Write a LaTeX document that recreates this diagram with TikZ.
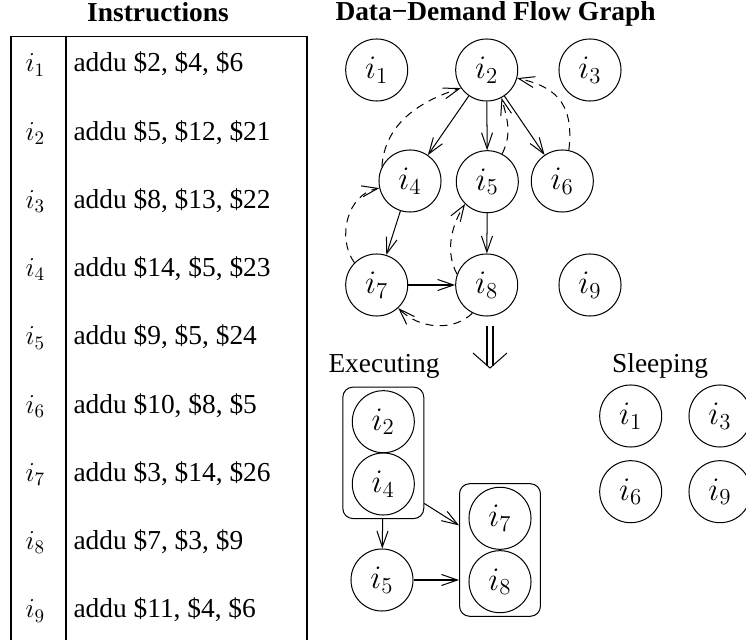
\documentclass[tikz,border=0pt]{standalone}
\usepackage{fontspec}
\setmainfont{Liberation Serif}
\usetikzlibrary{arrows.meta,fit}
\tikzset{
  circ/.style={circle, draw, minimum size=32.6pt, inner sep=0pt, font=\fontsize{17.28}{20}\selectfont},
  dsh/.style={dash pattern=on 4.2pt off 3.2pt},
  grp/.style={draw, rounded corners=5.3pt, inner xsep=4.7pt, inner ysep=1.6pt},
  rowlab/.style={anchor=base west, inner sep=0pt},
  title/.style={anchor=base, inner sep=0pt, font=\fontsize{14.4}{17}\selectfont\bfseries},
}
\begin{document}
\begin{tikzpicture}[x=0.5255pt,y=-0.5255pt, font=\fontsize{14.4}{17}\selectfont, line width=0.53pt,
  >={Straight Barb[length=8.4pt,width=5.8pt]}]
\useasboundingbox (0,0) rectangle (746,640);

% ---- Instructions table ----
\node[title] (tinstr) at (158,22) {Instructions};
\draw (11,641) -- (11,36.7) -- (307,36.7) -- (307,641);
\draw (66,36.7) -- (66,641);
\foreach \k/\txt [count=\n from 0] in {1/{addu \$2, \$4, \$6},2/{addu \$5, \$12, \$21},3/{addu \$8, \$13, \$22},4/{addu \$14, \$5, \$23},5/{addu \$9, \$5, \$24},6/{addu \$10, \$8, \$5},7/{addu \$3, \$14, \$26},8/{addu \$7, \$3, \$9},9/{addu \$11, \$4, \$6}}{
  \node[rowlab] (lab\k) at (25,{72+68.25*\n}) {$i_{\k}$};
  \node[rowlab] (ins\k) at (73,{72+68.25*\n}) {\txt};
}

% ---- Data-Demand Flow Graph ----
\node[title, anchor=base west] (tgraph) at (335,21) {Data−Demand Flow Graph};
\node[circ] (u1) at (376.7,70) {$i_1$};
\node[circ] (u2) at (486.7,70) {$i_2$};
\node[circ] (u3) at (590,70) {$i_3$};
\node[circ] (u4) at (410,181) {$i_4$};
\node[circ] (u5) at (487.3,181.7) {$i_5$};
\node[circ] (u6) at (562.3,181) {$i_6$};
\node[circ] (u7) at (376.7,285) {$i_7$};
\node[circ] (u8) at (486.7,285) {$i_8$};
\node[circ] (u9) at (590,285) {$i_9$};

\draw[->] (u2) -- (u4);
\draw[->] (u2) -- (u5);
\draw[->] (u2) -- (u6);
\draw[->] (u4) -- (u7);
\draw[->] (u5) -- (u8);
\draw[->] (u7) -- (u8);

\draw[->,dsh] (u4.153) .. controls +(3,-45) and +(-38,12) .. (u2.215);
\draw[->,dsh] (u5.62) .. controls +(10,-20) and +(6,22) .. (u2.-62);
\draw[->,dsh] (u6.78) .. controls +(6,-50) and +(35,8) .. (u2.-15);
\draw[->,dsh] (u7.135) .. controls +(-18,-25) and +(-32,6) .. (u4.193);
\draw[->,dsh] (u8.160) .. controls +(-12,-22) and +(-14,22) .. (u5.225);
\draw[->,dsh] (u8.243) .. controls +(-18,18) and +(22,22) .. (u7.-47);

% ---- transition arrow ----
\coordinate (dtop) at (490,326);
\draw (dtop) ++(-3,0) -- ++(0,40);
\draw (dtop) ++(3,0) -- ++(0,40);
\draw (dtop) ++(-17,27) -- ++(17,15) -- ++(17,-15);

% ---- Executing ----
\node[anchor=base west, inner sep=0pt] (exec) at (328,373) {Executing};
\node[circ] (l2) at (383.3,421.7) {$i_2$};
\node[circ] (l4) at (383.3,484) {$i_4$};
\node[circ] (l5) at (382,580) {$i_5$};
\node[circ] (l7) at (500,518.3) {$i_7$};
\node[circ] (l8) at (500,581.7) {$i_8$};
\node[grp, fit=(l2)(l4)] (b1) {};
\node[grp, fit=(l7)(l8)] (b2) {};
\draw[->] (b1) -- (l5);
\draw[->] (b1.-51) -- (b2.149);
\draw[->] (l5) -- (l5 -| b2.west);

% ---- Sleeping ----
\node[anchor=base west, inner sep=0pt] (sleep) at (611.7,373) {Sleeping};
\node[circ] (s1) at (630.7,416) {$i_1$};
\node[circ] (s3) at (720,416) {$i_3$};
\node[circ] (s6) at (630.7,491.7) {$i_6$};
\node[circ] (s9) at (720,491.7) {$i_9$};
\end{tikzpicture}
\end{document}
